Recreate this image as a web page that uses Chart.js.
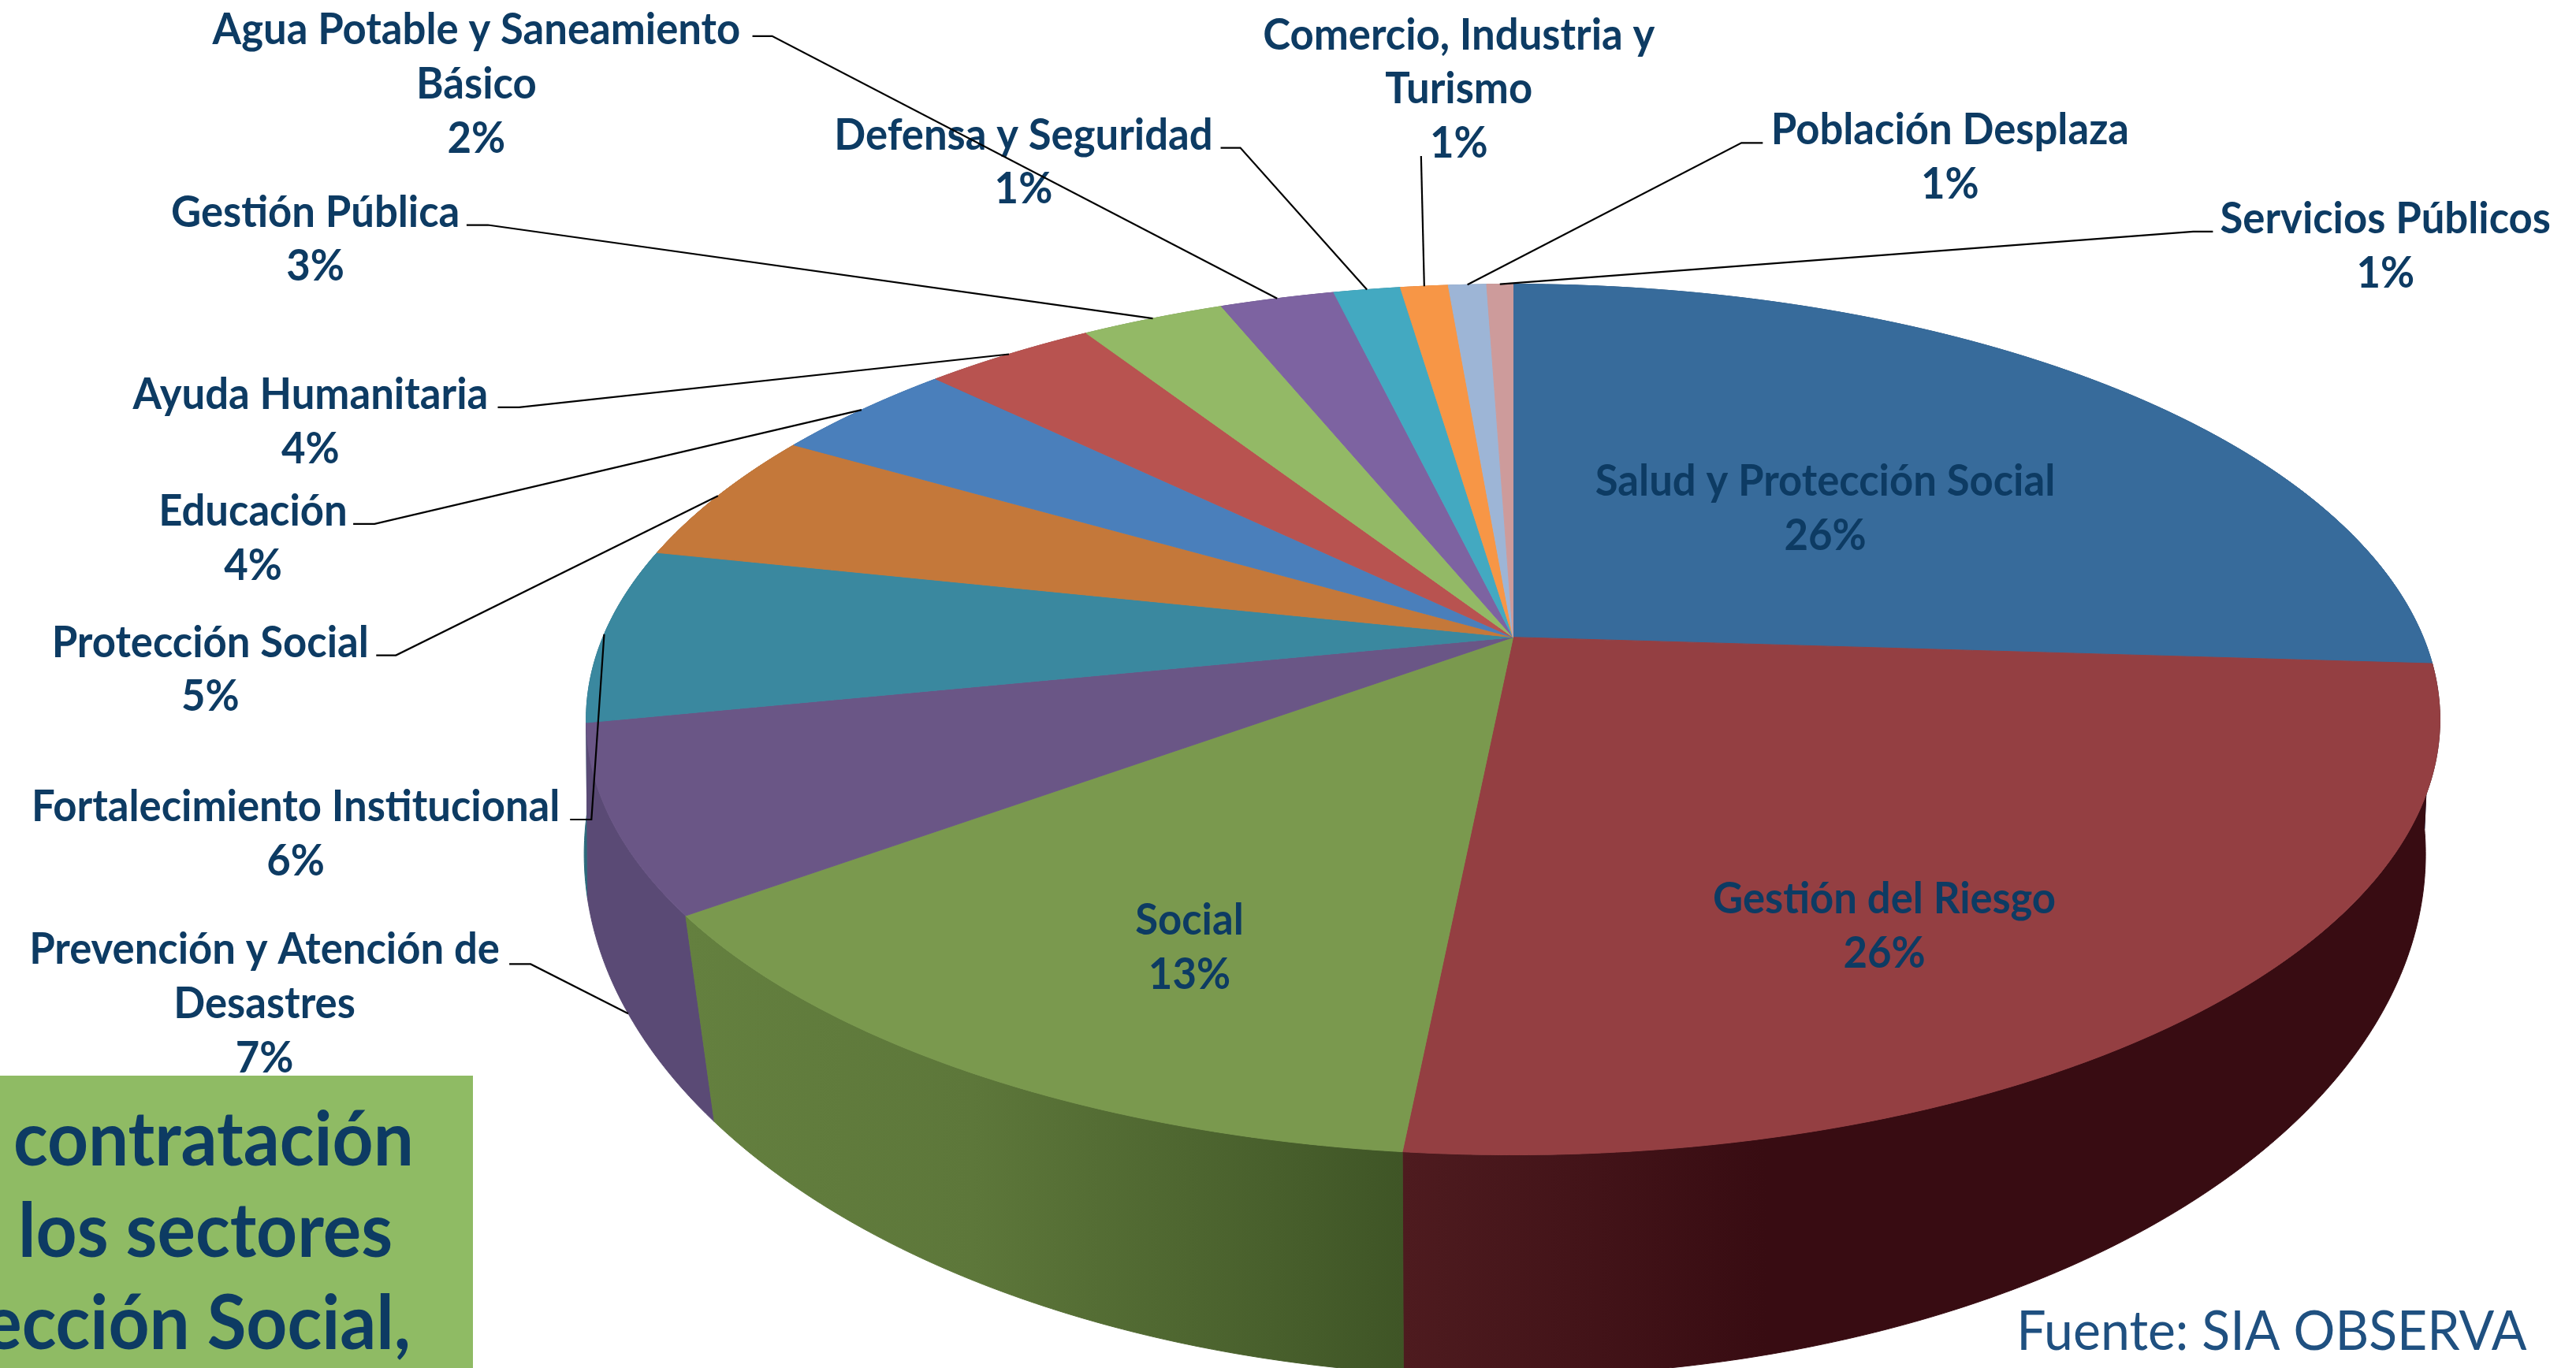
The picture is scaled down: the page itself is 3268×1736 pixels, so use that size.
<!DOCTYPE html>
<html><head><meta charset="utf-8">
<style>html,body{margin:0;padding:0;background:#fff}canvas{display:block}</style>
<script src="https://cdn.jsdelivr.net/npm/chart.js@4/dist/chart.umd.js"></script>
</head><body><canvas id="c" width="3268" height="1736"></canvas>
<script>
const categories = ["Salud y Protección Social","Gestión del Riesgo","Social","Prevención y Atención de Desastres","Fortalecimiento Institucional","Protección Social","Educación","Ayuda Humanitaria","Gestión Pública","Agua Potable y Saneamiento Básico","Defensa y Seguridad","Comercio, Industria y Turismo","Población Desplaza","Servicios Públicos"];
const shares = [26.0,25.6,13.4,6.9,6.5,5.0,3.9,3.6,3.0,2.4,1.4,1.0,0.8,0.55];
const percentLabels = ["26%","26%","13%","7%","6%","5%","4%","4%","3%","2%","1%","1%","1%","1%"];
const topColors = ["#376b9b","#943f42","#7a994e","#6a5686","#3a889f","#c4783a","#4a7fbb","#b85350","#93b966","#7d63a1","#43a9c1","#f79646","#9db5d6","#cd9b9b"];
const wallLeft  = ["#2a5278","#4e1b1f","#64803f","#5a4a75","#2c6a7c","#99602e","#3a6594","#8f4240","#738f50","#61507e","#348497","#c27538","#7a8da7","#a07a7a"];
const wallRight = ["#2a5278","#380c12","#3f5526","#5a4a75","#2c6a7c","#99602e","#3a6594","#8f4240","#738f50","#61507e","#348497","#c27538","#7a8da7","#a07a7a"];

const S = 3268/1568;
// perspective discs: top face and wall foot (px of the shrunk reference, scaled by S)
const G = {cx:921*S, cy:388*S, R:554*S, Ry:255.6*S, k:0.189};
const B = {cx:916*S, cy:485*S, R:557*S, Ry:314.2*S, k:0.11};
function rim(a, bottom){
  const D=bottom?B:G, u=Math.cos(a), v=Math.sin(a), w=1-D.k*v;
  return [D.cx+D.R*u/w, D.cy+D.Ry*v/w];
}
function arcPts(a0,a1,bottom){
  const n=Math.max(2,Math.ceil((a1-a0)/(Math.PI/360))), p=[];
  for(let i=0;i<=n;i++) p.push(rim(a0+(a1-a0)*i/n,bottom));
  return p;
}
Chart.ArcElement.prototype.draw=function(ctx){
  const col=this.options.backgroundColor;
  ctx.save();
  ctx.beginPath();
  ctx.moveTo(G.cx,G.cy);
  arcPts(this.startAngle,this.endAngle,false).forEach(p=>ctx.lineTo(p[0],p[1]));
  ctx.closePath();
  ctx.fillStyle=col; ctx.strokeStyle=col; ctx.lineWidth=1;
  ctx.fill(); ctx.stroke();
  ctx.restore();
};
const walls={id:'walls',beforeDatasetsDraw(chart){
  const ctx=chart.ctx, arcs=chart.getDatasetMeta(0).data.map((e,i)=>({e,i}));
  arcs.sort((a,b)=>Math.sin((a.e.startAngle+a.e.endAngle)/2)-Math.sin((b.e.startAngle+b.e.endAngle)/2));
  arcs.forEach(({e,i})=>{
    const t=arcPts(e.startAngle,e.endAngle,false), b=arcPts(e.startAngle,e.endAngle,true).reverse();
    const all=t.concat(b), xs=all.map(p=>p[0]);
    const x0=Math.min(...xs), x1=Math.max(...xs);
    const g=ctx.createLinearGradient(x0,0,x1,0);
    if(i===1){g.addColorStop(0,"#4e1b1f");g.addColorStop(0.35,"#380c12");g.addColorStop(1,"#380c12");}
    else if(i===2){g.addColorStop(0,wallLeft[i]);g.addColorStop(0.4,"#5d773a");g.addColorStop(1,wallRight[i]);}
    else {g.addColorStop(0,wallLeft[i]);g.addColorStop(1,wallRight[i]);}
    ctx.beginPath();
    all.forEach((p,j)=>j?ctx.lineTo(p[0],p[1]):ctx.moveTo(p[0],p[1]));
    ctx.closePath();
    ctx.fillStyle=g; ctx.strokeStyle=g; ctx.lineWidth=1; ctx.fill(); ctx.stroke();
  });
}};
// label layout: line texts, centre x, first baseline (shrunk-reference px)
const labelLayout=[
 {i:0,lines:["Salud y Protección Social"],x:1111,y:302},
 {i:1,lines:["Gestión del Riesgo"],x:1147,y:556},
 {i:2,lines:["Social"],x:724,y:569},
 {i:3,lines:["Prevención y Atención de","Desastres"],x:161,y:587,from:[[310,587],[323,587]],wall:true},
 {i:4,lines:["Fortalecimiento Institucional"],x:180,y:500,from:[[347,499],[360,499]]},
 {i:5,lines:["Protección Social"],x:128,y:400,from:[[229,399],[241,399]]},
 {i:6,lines:["Educación"],x:154,y:320,from:[[215,319],[228,319]]},
 {i:7,lines:["Ayuda Humanitaria"],x:189,y:249,from:[[303,248],[316,248]]},
 {i:8,lines:["Gestión Pública"],x:192,y:138,from:[[284,137],[297,137]]},
 {i:9,lines:["Agua Potable y Saneamiento","Básico"],x:290,y:27,from:[[458,22],[470,22]]},
 {i:10,lines:["Defensa y Seguridad"],x:623,y:91,from:[[743,90],[755,90]]},
 {i:11,lines:["Comercio, Industria y","Turismo"],x:888,y:30,from:[[865,95]]},
 {i:12,lines:["Población Desplaza"],x:1187,y:88,from:[[1073,87],[1060,87]]},
 {i:13,lines:["Servicios Públicos"],x:1452,y:142,from:[[1347,141],[1335,141]]}
];
const textColor="#0d3b63", SQ=0.94;
function txt(ctx,s,x,y,font,align,col,sq){
  ctx.save();ctx.font=font;ctx.fillStyle=col;ctx.textAlign=align;ctx.textBaseline='alphabetic';
  ctx.translate(x,y);ctx.scale(sq,1);ctx.fillText(s,0,0);ctx.restore();
}
const labels={id:'labels',afterDatasetsDraw(chart){
  const ctx=chart.ctx, data=chart.getDatasetMeta(0).data;
  labelLayout.forEach(L=>{
    [...L.lines,percentLabels[L.i]].forEach((s,j)=>txt(ctx,s,L.x*S,(L.y+33*j)*S,"bold 56px Lato",'center',textColor,SQ));
  });
  labelLayout.forEach(L=>{
    if(!L.from) return;
    const e=data[L.i], end=rim((e.startAngle+e.endAngle)/2,!!L.wall);
    ctx.beginPath();
    L.from.forEach((p,j)=>j?ctx.lineTo(p[0]*S,p[1]*S):ctx.moveTo(p[0]*S,p[1]*S));
    ctx.lineTo(end[0],end[1]);
    ctx.strokeStyle="#000";ctx.lineWidth=2.2;ctx.stroke();
  });
  // green note box and source
  ctx.fillStyle="#8fbb64";ctx.fillRect(0,1365,600,371);
  txt(ctx,"contratación",130*S,709.5*S,"bold 96px Lato",'center',textColor,0.945);
  txt(ctx,"los sectores",125*S,765.5*S,"bold 96px Lato",'center',textColor,0.945);
  txt(ctx,"ección Social,",250*S,821.5*S,"bold 96px Lato",'right',textColor,0.945);
  txt(ctx,"Fuente: SIA OBSERVA",1538*S,822*S,"70px Lato",'right',"#1f5080",0.945);
}};
new Chart(document.getElementById('c'),{
  type:'pie',
  data:{labels:categories,datasets:[{data:shares,backgroundColor:topColors,borderWidth:0}]},
  options:{responsive:false,animation:false,devicePixelRatio:1,
    plugins:{legend:{display:false},tooltip:{enabled:false}}},
  plugins:[walls,labels]
});
</script></body></html>
